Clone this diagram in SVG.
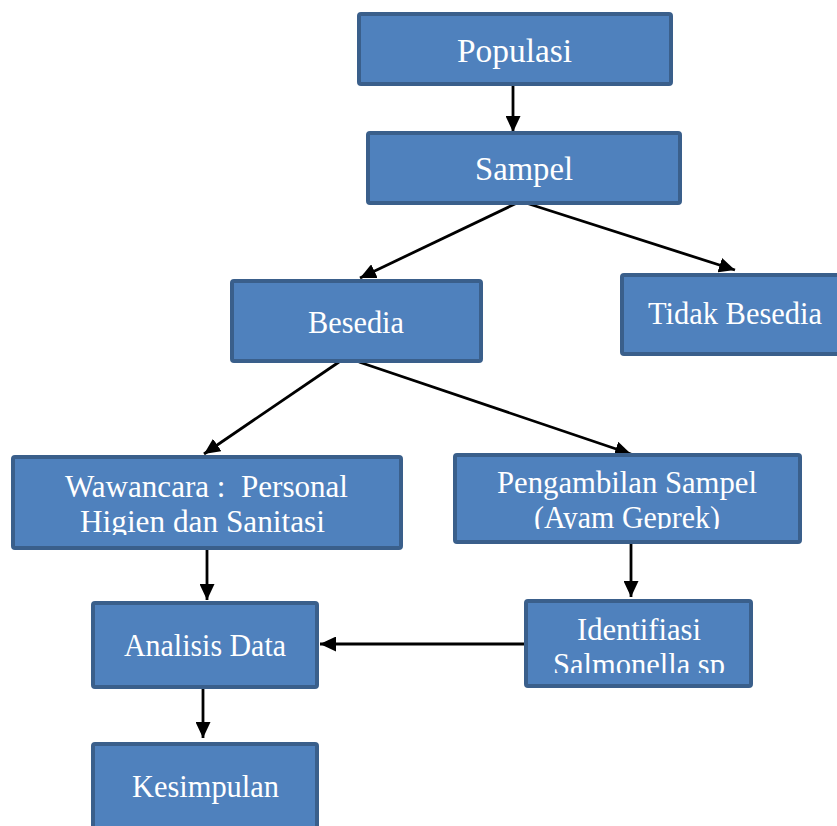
<svg xmlns="http://www.w3.org/2000/svg" width="837" height="826" viewBox="0 0 837 826">
  <style>
    .box { fill: #4F81BD; stroke: #3A5F8B; stroke-width: 4; }
    .lbl { font-family: "Liberation Serif", "DejaVu Serif", serif; font-size: 30.5px; fill: #FFFFFF; text-anchor: middle; }
    .big { font-size: 33px; }
    .conn { stroke: #000000; stroke-width: 2.8; fill: none; marker-end: url(#arrow); }
  </style>
  <defs>
    <marker id="arrow" markerUnits="userSpaceOnUse" markerWidth="16" markerHeight="15" refX="16" refY="7.5" orient="auto">
      <path d="M0,0 L16,7.5 L0,15 Z" fill="#000000"/>
    </marker>
    <clipPath id="clipWaw"><rect x="13" y="457" width="388" height="78"/></clipPath>
    <clipPath id="clipPeng"><rect x="455" y="455" width="345" height="74"/></clipPath>
    <clipPath id="clipIdent"><rect x="526" y="601" width="225" height="72"/></clipPath>
  </defs>
  <rect width="837" height="826" fill="#FFFFFF"/>

  <g id="connectors">
    <line class="conn" x1="513" y1="86" x2="513" y2="132"/>
    <line class="conn" x1="517" y1="203" x2="360" y2="278"/>
    <line class="conn" x1="526" y1="203" x2="735" y2="270"/>
    <line class="conn" x1="339" y1="362" x2="204" y2="454"/>
    <line class="conn" x1="359" y1="362" x2="631" y2="454"/>
    <line class="conn" x1="207" y1="550" x2="207" y2="600"/>
    <line class="conn" x1="631" y1="544" x2="631" y2="597"/>
    <line class="conn" x1="526" y1="644" x2="320" y2="644"/>
    <line class="conn" x1="203" y1="689" x2="203" y2="738"/>
  </g>

  <g id="populasi">
    <rect class="box" x="359" y="14" width="312" height="70" rx="2"/>
    <text class="lbl big" x="514.5" y="62" textLength="115" lengthAdjust="spacingAndGlyphs">Populasi</text>
  </g>
  <g id="sampel">
    <rect class="box" x="368" y="133" width="312" height="70" rx="2"/>
    <text class="lbl big" x="524" y="180" textLength="98" lengthAdjust="spacingAndGlyphs">Sampel</text>
  </g>
  <g id="besedia">
    <rect class="box" x="232" y="281" width="249" height="80" rx="2"/>
    <text class="lbl" x="356" y="333" textLength="96" lengthAdjust="spacingAndGlyphs">Besedia</text>
  </g>
  <g id="tidak-besedia">
    <rect class="box" x="622" y="275" width="240" height="79" rx="2"/>
    <text class="lbl" x="735" y="324" textLength="174" lengthAdjust="spacingAndGlyphs">Tidak Besedia</text>
  </g>
  <g id="wawancara">
    <rect class="box" x="13" y="457" width="388" height="91" rx="2"/>
    <g clip-path="url(#clipWaw)">
      <text class="lbl" x="206.5" y="497" textLength="283" lengthAdjust="spacingAndGlyphs" xml:space="preserve">Wawancara :  Personal</text>
      <text class="lbl" x="202.5" y="532" textLength="245" lengthAdjust="spacingAndGlyphs">Higien dan Sanitasi</text>
    </g>
  </g>
  <g id="pengambilan-sampel">
    <rect class="box" x="455" y="455" width="345" height="87" rx="2"/>
    <g clip-path="url(#clipPeng)">
      <text class="lbl" x="627" y="493" textLength="260" lengthAdjust="spacingAndGlyphs">Pengambilan Sampel</text>
      <text class="lbl" x="627" y="528" textLength="186" lengthAdjust="spacingAndGlyphs">(Ayam Geprek)</text>
    </g>
  </g>
  <g id="identifiasi">
    <rect class="box" x="526" y="601" width="225" height="85" rx="2"/>
    <g clip-path="url(#clipIdent)">
      <text class="lbl" x="639" y="640" textLength="124" lengthAdjust="spacingAndGlyphs">Identifiasi</text>
      <text class="lbl" x="639" y="675" textLength="172" lengthAdjust="spacingAndGlyphs">Salmonella sp</text>
    </g>
  </g>
  <g id="analisis-data">
    <rect class="box" x="93" y="603" width="224" height="84" rx="2"/>
    <text class="lbl" x="205" y="656" textLength="162" lengthAdjust="spacingAndGlyphs">Analisis Data</text>
  </g>
  <g id="kesimpulan">
    <rect class="box" x="93" y="744" width="224" height="100" rx="2"/>
    <text class="lbl" x="205.5" y="797" textLength="147" lengthAdjust="spacingAndGlyphs">Kesimpulan</text>
  </g>
</svg>
